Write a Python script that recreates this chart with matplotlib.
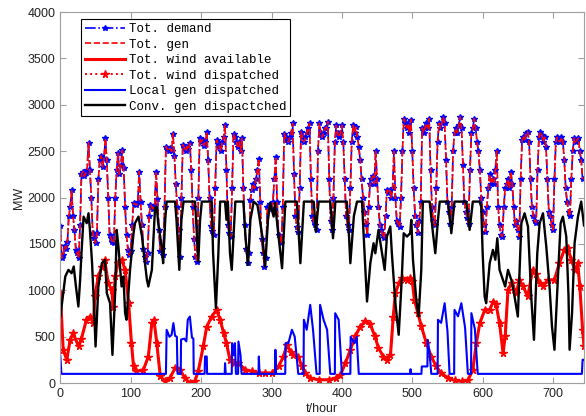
import numpy as np
import matplotlib
matplotlib.use("Agg")
import matplotlib.pyplot as plt

# hourly series (demand every 2 h, one row per day)
demand_rows = [
    [1690, 1350, 1380, 1480, 1450, 1520, 1800, 1900, 2080, 1800, 1650, 1440],
    [1400, 1345, 1700, 2250, 2280, 2230, 2260, 2300, 2590, 2300, 2000, 1620],
    [1560, 1510, 1620, 2200, 2400, 2450, 2330, 2420, 2640, 2400, 2000, 1600],
    [1560, 1520, 1510, 2000, 2300, 2480, 2250, 2350, 2510, 2320, 1900, 1600],
    [1440, 1380, 1420, 1700, 1940, 1930, 1920, 1950, 2280, 1950, 1700, 1450],
    [1360, 1310, 1400, 1800, 1920, 1900, 1880, 1920, 2280, 1980, 1650, 1420],
    [1450, 1380, 1900, 2550, 2520, 2500, 2530, 2500, 2690, 2450, 2150, 1900],
    [1650, 1365, 2000, 2570, 2540, 2500, 2550, 2520, 2585, 2300, 1900, 1550],
    [1365, 1310, 2000, 2640, 2600, 2620, 2560, 2600, 2710, 2400, 2000, 1690],
    [1640, 1600, 2100, 2620, 2580, 2550, 2500, 2600, 2650, 2780, 2300, 1700],
    [1620, 1580, 2100, 2690, 2650, 2600, 2550, 2600, 2500, 2640, 2100, 1700],
    [1450, 1290, 1400, 1975, 2080, 2150, 2100, 2200, 2300, 2420, 1950, 1550],
    [1400, 1255, 1350, 1900, 1900, 1930, 1880, 1950, 2200, 2440, 1950, 1600],
    [1580, 1510, 1900, 2690, 2650, 2620, 2600, 2650, 2700, 2800, 2250, 1800],
    [1680, 1630, 2100, 2710, 2650, 2600, 2650, 2700, 2750, 2800, 2200, 1800],
    [1750, 1700, 1650, 2500, 2800, 2700, 2650, 2700, 2750, 2750, 2820, 2200],
    [1750, 1650, 2000, 2600, 2780, 2700, 2650, 2700, 2780, 2600, 2200, 1800],
    [1700, 1650, 2100, 2600, 2780, 2700, 2760, 2650, 2550, 2400, 2200, 2000],
    [1850, 1720, 1600, 1900, 2150, 2200, 2230, 2150, 2500, 2200, 1900, 1700],
    [1650, 1600, 1560, 1800, 2080, 2050, 2080, 2000, 2100, 2500, 2000, 1750],
    [1720, 1680, 2000, 2500, 2850, 2800, 2750, 2800, 2700, 2840, 2500, 2100],
    [1800, 1700, 1620, 1750, 1950, 2750, 2700, 2750, 2800, 2750, 2850, 2300],
    [1900, 1750, 1700, 2100, 2600, 2800, 2750, 2800, 2870, 2800, 2400, 1950],
    [1850, 1720, 1900, 2500, 2700, 2750, 2700, 2780, 2870, 2750, 2350, 1950],
    [1850, 1780, 1720, 2300, 2700, 2750, 2850, 2750, 2600, 2500, 2300, 2000],
    [1850, 1700, 1630, 1900, 2100, 2250, 2150, 2200, 2150, 2300, 2500, 1900],
    [1700, 1600, 1580, 1900, 2100, 2150, 2200, 2100, 2280, 2150, 1900, 1700],
    [1750, 1650, 1580, 2200, 2620, 2650, 2620, 2700, 2710, 2600, 2200, 1900],
    [1800, 1750, 1730, 2300, 2650, 2710, 2680, 2600, 2650, 2550, 2200, 1850],
    [1800, 1700, 1650, 2200, 2600, 2650, 2620, 2600, 2650, 2600, 2400, 2100],
    [1950, 1850, 1800, 2200, 2500, 2640, 2600, 2620, 2640, 2500, 2400, 2200],
]

wind_t = [0, 4, 9, 14, 18, 26, 30, 37, 42, 47, 49, 54, 59, 63, 68, 73, 75, 78, 82, 87,
          92, 97, 101, 104, 108, 118, 125, 130, 133, 137, 142, 149, 156, 163, 170, 177,
          184, 191, 196, 203, 208, 215, 222, 227, 232, 236, 241, 246, 253, 263, 272,
          282, 291, 300, 310, 317, 322, 327, 331, 338, 343, 348, 355, 367, 381, 391,
          398, 405, 412, 419, 426, 433, 440, 447, 452, 459, 464, 469, 473, 476, 481,
          485, 492, 497, 500, 503, 508, 513, 520, 527, 534, 541, 551, 560, 570, 579,
          586, 591, 596, 603, 610, 615, 619, 624, 629, 632, 636, 641, 648, 652, 657,
          664, 671, 676, 681, 686, 693, 702, 709, 716, 721, 726, 731, 735, 738, 742, 744]
wind_mw = [970, 360, 252, 467, 539, 395, 480, 683, 718, 647, 934, 1150, 1257, 1329, 1077,
           1006, 826, 1150, 1293, 1329, 1221, 862, 431, 180, 126, 144, 287, 647, 683, 431,
           72, 18, 60, 162, 144, 54, 0, 20, 130, 395, 610, 718, 790, 683, 539, 431, 252,
           216, 216, 144, 126, 108, 108, 108, 180, 287, 413, 341, 300, 287, 180, 108, 54,
           36, 36, 54, 90, 216, 359, 503, 610, 665, 640, 503, 377, 287, 252, 300, 718,
           970, 1077, 1131, 1113, 1130, 1100, 898, 754, 611, 431, 287, 180, 108, 54, 29,
           18, 29, 144, 431, 647, 790, 790, 880, 850, 647, 324, 503, 1006, 1077, 970,
           1113, 1050, 934, 1221, 1180, 1077, 1050, 1113, 1113, 1293, 1436, 1454, 1330,
           1221, 1290, 1050, 575, 400]

local_t = [0, 1.5, 150, 151, 155, 158, 160.6, 163, 165.5, 166.5, 171, 171.5, 176, 179, 181,
           184, 187, 189, 189.5, 205, 205.5, 208, 208.5, 233.5, 234, 235, 243.5, 244, 246,
           248, 249.5, 252.5, 253, 256, 257.5, 281.5, 282, 283, 305, 305.5, 306.5, 319.5,
           320, 324, 329, 333, 338, 345.5, 346, 350, 355, 359, 364, 368.5, 369, 374, 379,
           383.5, 390, 390.5, 395.4, 400, 412, 412.5, 418, 421, 424, 497, 497.5, 498.5,
           513, 513.5, 521.5, 522, 525, 527, 536, 536.5, 541, 546, 550, 553, 559.5, 560,
           565, 569.7, 575, 579, 583.5, 584, 589, 593, 741, 742, 744]
local_mw = [290, 100, 100, 575, 500, 520, 647, 510, 500, 100, 100, 470, 480, 450, 683,
            718, 490, 480, 100, 100, 287, 287, 100, 100, 215, 100, 100, 431, 300, 431,
            100, 100, 449, 300, 100, 100, 287, 100, 100, 359, 100, 100, 431, 431, 575,
            500, 100, 100, 683, 575, 844, 575, 100, 100, 844, 683, 575, 100, 100, 754,
            683, 100, 100, 500, 430, 500, 100, 100, 150, 100, 100, 180, 180, 467, 300,
            100, 100, 683, 650, 862, 560, 100, 100, 790, 720, 862, 600, 100, 100, 754,
            580, 100, 100, 252, 252]

conv_t = [0, 3, 7, 11.5, 16, 19, 22, 25.6, 28, 30, 33, 37.5, 40, 42, 45, 47, 50, 54, 59,
          63.5, 66, 70.6, 74, 78, 80, 82.5, 87, 89.6, 92, 94, 99, 104, 106, 111, 116, 118,
          123, 125, 130, 134.5, 137, 139, 144, 146, 149, 151, 163, 165, 169, 172, 175,
          191.4, 194, 196, 198.5, 201, 215, 217, 221, 224.5, 227, 234, 236, 238, 241,
          243.5, 248.6, 260, 263, 266.6, 270, 274.7, 280, 282, 287, 291, 295, 298, 303,
          305, 310, 315, 319.7, 336, 338, 341, 344, 346, 360, 363, 367, 383.6, 387.4,
          390.7, 407, 410, 412, 417, 421.5, 428.6, 431, 435.7, 440.4, 445, 447.5, 452,
          456, 460.8, 464, 468.8, 471, 476, 480.7, 485, 487.8, 492.5, 497, 498.6, 501,
          505.7, 509, 512.8, 515, 524.7, 529.4, 532.7, 536.5, 539, 550.7, 555.5, 560,
          576.8, 581.5, 586, 595.7, 598, 600, 602.8, 605, 610, 614.6, 618, 620.8, 624,
          628.8, 632, 636, 640.7, 644.5, 650, 655, 659.6, 664.4, 669, 672.9, 677.6, 681,
          685.7, 690.4, 695, 698.5, 702, 707, 710.8, 714, 718.8, 722, 723.5, 727, 730.6,
          735.4, 740, 744]
conv_mw = [718, 900, 1150, 1221, 1185, 1257, 1050, 826, 1100, 1400, 1795, 1724, 1831,
           1652, 1300, 970, 395, 1042, 1293, 1329, 970, 862, 305, 1006, 1652, 1472, 1042,
           1150, 754, 683, 1221, 1616, 1724, 1795, 1580, 1436, 1113, 1042, 1221, 1885,
           1900, 1724, 1472, 1293, 1760, 1957, 1957, 1760, 1221, 1760, 1957, 1957, 1580,
           1311, 1760, 1957, 1957, 1400, 808, 1400, 1957, 1957, 1760, 1957, 1400, 1221,
           1957, 1957, 1580, 1275, 1760, 1957, 1920, 1830, 1580, 1257, 1760, 1940, 1795,
           1940, 1580, 1239, 1957, 1957, 1700, 1293, 1700, 1957, 1957, 1634, 1957, 1957,
           1562, 1957, 1957, 1600, 1293, 1800, 1957, 1957, 1580, 880, 1293, 1508, 1400,
           1652, 1450, 1221, 1580, 1688, 1400, 862, 521, 1113, 1616, 1580, 1616, 1760,
           1330, 898, 718, 1221, 1957, 1957, 1616, 1400, 1760, 1957, 1957, 1616, 1957,
           1957, 1652, 1957, 1957, 1900, 1400, 934, 862, 1293, 1436, 1330, 1562, 1221,
           1113, 1042, 1221, 1113, 970, 718, 1724, 1831, 1688, 934, 467, 1400, 1724,
           1831, 1472, 1042, 611, 360, 1150, 1724, 1795, 1580, 934, 360, 754, 1508,
           1795, 1957, 1700]

demand_mw = [v for row in demand_rows for v in row]
demand_t = np.arange(0, 2 * len(demand_mw), 2)

plt.rcParams['font.family'] = ['Liberation Sans', 'DejaVu Sans']

fig = plt.figure(figsize=(5.86, 4.16), dpi=100)
ax = fig.add_axes([0.103, 0.079, 0.8936, 0.892])

ax.plot(demand_t, demand_mw, color='blue', linestyle='-.', linewidth=1.2,
        marker='*', markersize=4, label='Tot. demand')
ax.plot(demand_t, demand_mw, color='red', linestyle='--', linewidth=1.2,
        label='Tot. gen')
ax.plot(wind_t, wind_mw, color='red', linestyle='-', linewidth=2.2,
        label='Tot. wind available')
ax.plot(wind_t, wind_mw, color='red', linestyle=':', linewidth=1.4,
        marker='*', markersize=5.5, label='Tot. wind dispatched')
ax.plot(local_t, local_mw, color='blue', linewidth=1.5, label='Local gen dispatched')
ax.plot(conv_t, conv_mw, color='black', linewidth=1.7, label='Conv. gen dispactched')

ax.set_xlim(0, 744)
ax.set_ylim(0, 4000)
ax.set_xticks(range(0, 701, 100))
ax.set_yticks(range(0, 4001, 500))
ax.tick_params(direction='in', length=4, top=True, right=True,
               labelsize=9, colors='#a0a0a0', labelcolor='#222222')
for s in ax.spines.values():
    s.set_color('#a0a0a0')
ax.set_xlabel('t/hour', fontsize=9, color='#222222', labelpad=2)
ax.set_ylabel('MW', fontsize=9, color='#222222', labelpad=2)

leg = ax.legend(loc='upper left', bbox_to_anchor=(0.04, 0.98), borderaxespad=0,
                prop={'family': 'Liberation Mono', 'size': 9}, fancybox=False,
                edgecolor='black', framealpha=1, handlelength=3.2,
                handletextpad=0.3, labelspacing=0.28, borderpad=0.3)
leg.get_frame().set_linewidth(0.8)

fig.savefig('out.png', dpi=100)
